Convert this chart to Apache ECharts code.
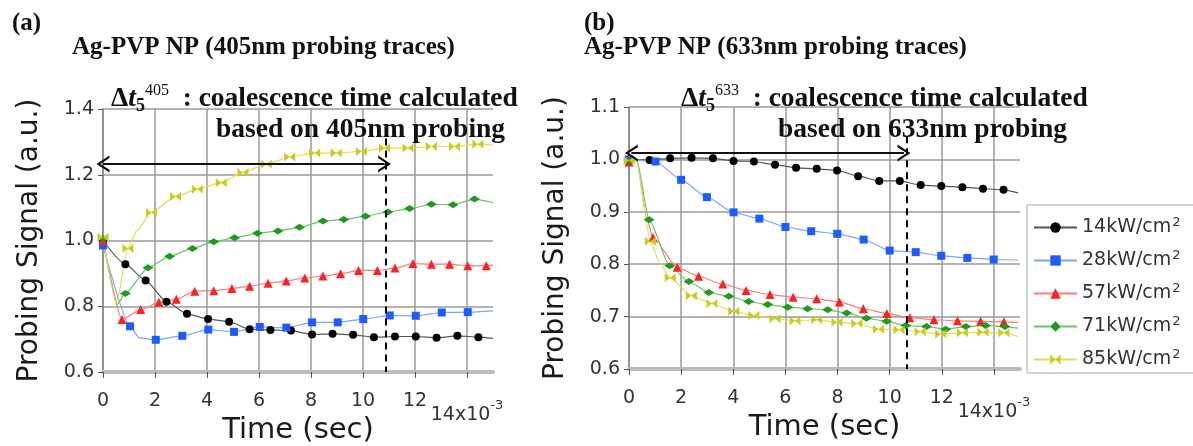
<!DOCTYPE html>
<html><head><meta charset="utf-8">
<script src="https://cdn.jsdelivr.net/npm/echarts@6/dist/echarts.min.js"></script>
<style>html,body{margin:0;padding:0;background:#fff}#c{width:1193px;height:446px}</style>
</head><body><div id="c"></div>
<script>
// Series names (legend)
const names = ['14kW/cm²', '28kW/cm²', '57kW/cm²', '71kW/cm²', '85kW/cm²'];
// x tick values (×10^-3 s)
const xTicks = [0, 2, 4, 6, 8, 10, 12, 14];
const yTicksA = [0.6, 0.8, 1.0, 1.2, 1.4];
const yTicksB = [0.6, 0.7, 0.8, 0.9, 1.0, 1.1];

// Panel (a): 405 nm probing traces  [time (ms), signal, marker shown]
const a14 = [[0,1.0,1],[0.86,0.928,1],[1.64,0.878,1],[2.44,0.814,1],[3.23,0.777,1],[4.04,0.761,1],[4.85,0.753,1],[5.64,0.730,1],[6.44,0.728,1],[7.23,0.726,1],[8.04,0.714,1],[8.83,0.716,1],[9.62,0.713,1],[10.42,0.706,1],[11.23,0.708,1],[12.03,0.708,1],[12.83,0.704,1],[13.63,0.710,1],[14.44,0.706,1],[15,0.702,0]];
const a28 = [[0,0.985,1],[1.04,0.739,1],[1.4,0.704,0],[2.03,0.698,1],[3.05,0.710,1],[4.05,0.729,1],[5.04,0.722,1],[6.03,0.737,1],[7.05,0.735,1],[8.04,0.751,1],[9.03,0.751,1],[10.01,0.761,1],[11.03,0.772,1],[12.03,0.771,1],[13.03,0.781,1],[14.03,0.782,1],[15,0.786,0]];
const a57 = [[0,1.0,1],[0.73,0.760,1],[1.45,0.790,1],[2.15,0.812,1],[2.82,0.821,1],[3.53,0.846,1],[4.26,0.847,1],[4.96,0.854,1],[5.64,0.861,1],[6.35,0.870,1],[7.05,0.877,1],[7.76,0.886,1],[8.46,0.892,1],[9.14,0.899,1],[9.83,0.909,1],[10.55,0.909,1],[11.23,0.916,1],[11.92,0.930,1],[12.63,0.928,1],[13.33,0.928,1],[14.03,0.923,1],[14.74,0.923,1],[15,0.925,0]];
const a71 = [[0,1.005,1],[0.55,0.806,0],[0.86,0.839,1],[1.73,0.917,1],[2.56,0.952,1],[3.44,0.976,1],[4.26,0.996,1],[5.06,1.008,1],[5.94,1.022,1],[6.73,1.029,1],[7.56,1.040,1],[8.46,1.059,1],[9.26,1.064,1],[10.1,1.074,1],[10.96,1.087,1],[11.79,1.097,1],[12.63,1.110,1],[13.46,1.109,1],[14.29,1.126,1],[15,1.115,0]];
const a85 = [[0,1.01,1],[0.52,0.81,0],[0.96,0.976,1],[1.3,1.03,0],[1.86,1.085,1],[2.79,1.134,1],[3.63,1.156,1],[4.55,1.176,1],[5.38,1.207,1],[6.28,1.232,1],[7.18,1.254,1],[8.14,1.266,1],[8.97,1.266,1],[9.94,1.271,1],[10.83,1.281,1],[11.73,1.281,1],[12.63,1.286,1],[13.52,1.286,1],[14.42,1.293,1],[15,1.290,0]];

// Panel (b): 633 nm probing traces
const b14 = [[0,0.999,1],[0.79,0.999,1],[1.58,1.002,1],[2.40,1.003,1],[3.22,1.002,1],[4.01,0.997,1],[4.79,0.996,1],[5.6,0.990,1],[6.41,0.984,1],[7.20,0.982,1],[7.98,0.979,1],[8.79,0.968,1],[9.60,0.959,1],[10.39,0.959,1],[11.19,0.951,1],[11.98,0.949,1],[12.79,0.947,1],[13.58,0.944,1],[14.37,0.942,1],[14.93,0.936,0]];
const b28 = [[0,1.0,1],[1.02,0.996,1],[2.0,0.961,1],[2.99,0.928,1],[4.01,0.899,1],[5.0,0.887,1],[6.0,0.871,1],[6.99,0.863,1],[7.99,0.858,1],[9.0,0.847,1],[10.0,0.826,1],[11.0,0.823,1],[11.98,0.816,1],[12.98,0.812,1],[13.99,0.809,1],[14.93,0.808,0]];
const b57 = [[0,0.995,1],[0.3,0.998,0],[0.66,0.891,0],[0.92,0.851,1],[1.85,0.794,1],[2.67,0.777,1],[3.60,0.762,1],[4.49,0.750,1],[5.41,0.742,1],[6.30,0.737,1],[7.20,0.734,1],[8.07,0.728,1],[8.99,0.715,1],[9.89,0.706,1],[10.77,0.698,1],[11.70,0.694,1],[12.6,0.692,1],[13.49,0.691,1],[14.38,0.690,1],[14.93,0.689,0]];
const b71 = [[0,0.997,1],[0.3,0.998,0],[0.77,0.885,1],[1.56,0.797,1],[2.30,0.767,1],[3.06,0.746,1],[3.83,0.739,1],[4.59,0.729,1],[5.32,0.723,1],[6.09,0.718,1],[6.85,0.715,1],[7.62,0.713,1],[8.35,0.707,1],[9.11,0.697,1],[9.88,0.691,1],[10.62,0.683,1],[11.41,0.681,1],[12.15,0.676,1],[12.92,0.681,1],[13.68,0.683,1],[14.42,0.681,1],[14.93,0.678,0]];
const b85 = [[0,0.998,1],[0.28,0.997,0],[0.82,0.844,1],[1.17,0.803,0],[1.58,0.774,1],[2.39,0.740,1],[3.18,0.725,1],[4.02,0.710,1],[4.79,0.702,1],[5.60,0.696,1],[6.37,0.692,1],[7.20,0.694,1],[7.98,0.689,1],[8.74,0.687,1],[9.57,0.676,1],[10.36,0.675,1],[11.17,0.671,1],[11.96,0.667,1],[12.79,0.669,1],[13.58,0.670,1],[14.38,0.669,1],[14.93,0.662,0]];

// Δt5 annotations: double arrow and dashed line endpoints
const arrowA = [[0, 1.233], [10.83, 1.233]];
const dashA = [[10.87, 1.31], [10.87, 0.6]];
const arrowB = [[0.09, 1.012], [10.55, 1.012]];
const dashB = [[10.64, 1.044], [10.64, 0.6]];

const markerColors = ['#000000', '#1f5cff', '#ff2020', '#1e9a1e', '#cccc1a'];
const lineColors = ['#555555', '#7fa3ff', '#ff7a7a', '#6cc26c', '#dede5a'];
const symbols = ['circle', 'rect', 'triangle', 'path://M0,5L5,0L10,5L5,10Z', 'path://M0,0L5,5L0,10ZM10,0L5,5L10,10Z'];
const symbolSizes = [8, 8, 9, [11, 7], [11, 9]];

const SANS = 'DejaVu Sans';
const SERIF = 'Liberation Serif';

function mkSeries(arr, i, gi) {
  return {
    name: names[i], type: 'line', xAxisIndex: gi, yAxisIndex: gi,
    symbol: symbols[i], symbolSize: symbolSizes[i], showSymbol: true, showAllSymbol: true,
    smooth: 0.2, smoothMonotone: 'x',
    itemStyle: { color: markerColors[i] },
    lineStyle: { color: lineColors[i], width: 1.2 },
    emphasis: { disabled: true },
    data: arr.map(p => ({ value: [p[0], p[1]], symbol: p[2] ? symbols[i] : 'none' })),
    z: 3
  };
}
const chevron = 'path://M0,10L5,0L10,10L8.5,10L5,3L1.5,10Z';
function mkAnno(gi, arrow, dash) {
  return {
    type: 'line', xAxisIndex: gi, yAxisIndex: gi, data: [], silent: true,
    markLine: {
      silent: true, animation: false, label: { show: false },
      data: [
        [{ coord: arrow[0], symbol: chevron, symbolSize: [17, 13] }, { coord: arrow[1], symbol: chevron, symbolSize: [17, 13] }],
        [{ coord: dash[0], symbol: 'none', lineStyle: { type: [7, 5], width: 2, color: '#000' } }, { coord: dash[1], symbol: 'none' }]
      ],
      lineStyle: { color: '#111', width: 2, type: 'solid' }
    },
    z: 5
  };
}

function xAxis(gi) {
  return {
    type: 'value', gridIndex: gi, min: 0, max: 15, interval: 2,
    axisLine: { show: true, onZero: false, lineStyle: { color: '#bbbbbb', width: 4 } },
    axisTick: { show: true, length: 6, lineStyle: { color: '#555' } },
    splitLine: { show: true, lineStyle: { color: ['#9a9a9a','#9a9a9a','#9a9a9a','#9a9a9a','#9a9a9a','#9a9a9a','#9a9a9a','#9a9a9a','rgba(0,0,0,0)'], width: 1.5 } },
    axisLabel: {
      color: '#333', fontFamily: SANS, fontSize: 19, margin: 20, showMaxLabel: false,
      formatter: v => v === 14 ? '{b|14x10}{s|-3}' : (v > 14 ? '' : String(v)),
      rich: { b: { fontFamily: SANS, fontSize: 19, color: '#333', padding: [14, 0, 0, 0] }, s: { fontFamily: SANS, fontSize: 13, color: '#333', padding: [0, 0, 6, 0] } }
    },
    name: 'Time (sec)', nameLocation: 'middle', nameGap: 44, nameMoveOverlap: false,
    nameTextStyle: { fontFamily: SANS, fontSize: 29, color: '#1a1a1a' }
  };
}
function yAxis(gi, min, max, interval) {
  return {
    type: 'value', gridIndex: gi, min: min, max: max, interval: interval, offset: 3,
    axisLine: { show: true, lineStyle: { color: '#888', width: 1.5 } },
    axisTick: { show: true, length: 5, lineStyle: { color: '#555' } },
    splitLine: { show: true, lineStyle: { color: '#9a9a9a', width: 1.5 } },
    axisLabel: { color: '#333', fontFamily: SANS, fontSize: 19, margin: 6, formatter: v => v.toFixed(1) },
    name: 'Probing Signal (a.u.)', nameLocation: 'middle', nameGap: 56, nameMoveOverlap: false,
    nameTextStyle: { fontFamily: SANS, fontSize: 28, color: '#1a1a1a' }
  };
}

const serifBold = { fontFamily: SERIF, fontWeight: 'bold', fontSize: 25, color: '#111' };
const annoBold = { fontFamily: SERIF, fontWeight: 'bold', fontSize: 27.5, color: '#111' };
function deltaRich(sup) {
  return {
    text: '{d|Δ}{t|t}{sub|5}{sup|' + sup + '}{m|  : coalescence time calculated}',
    textStyle: {
      rich: {
        d: Object.assign({}, annoBold, { lineHeight: 32 }),
        t: Object.assign({}, annoBold, { fontStyle: 'italic', lineHeight: 32 }),
        sub: Object.assign({}, annoBold, { fontSize: 18, verticalAlign: 'bottom', lineHeight: 18 }),
        sup: Object.assign({}, annoBold, { fontSize: 16, verticalAlign: 'top', lineHeight: 16, fontWeight: 'normal' }),
        m: Object.assign({}, annoBold, { lineHeight: 32 })
      }
    }
  };
}

const option = {
  backgroundColor: '#fff',
  animation: false,
  title: [
    { text: '(a)', left: 7, top: 6, textStyle: serifBold },
    { text: 'Ag-PVP NP (405nm probing traces)', left: 67, top: 30, textStyle: serifBold },
    Object.assign({ left: 106, top: 78 }, deltaRich('405')),
    { text: 'based on 405nm probing', left: 211, top: 111, textStyle: annoBold },
    { text: '(b)', left: 579, top: 6, textStyle: serifBold },
    { text: 'Ag-PVP NP (633nm probing traces)', left: 579, top: 30, textStyle: serifBold },
    Object.assign({ left: 676, top: 78 }, deltaRich('633')),
    { text: 'based on 633nm probing', left: 773, top: 111, textStyle: annoBold }
  ],
  grid: [
    { left: 103, top: 109, width: 390, height: 263, outerBoundsMode: 'none', containLabel: false },
    { left: 629, top: 107, width: 391, height: 262, outerBoundsMode: 'none', containLabel: false }
  ],
  xAxis: [xAxis(0), xAxis(1)],
  yAxis: [yAxis(0, yTicksA[0], yTicksA[yTicksA.length - 1], 0.2), yAxis(1, yTicksB[0], yTicksB[yTicksB.length - 1], 0.1)],
  legend: {
    data: names, orient: 'vertical', left: 1027, top: 205,
    itemWidth: 43, itemHeight: 13, itemGap: 12,
    borderColor: '#aaaaaa', borderWidth: 1, padding: [11, 60, 4, 6],
    selectedMode: false,
    formatter: n => '{n|' + n.replace('²', '') + '}{s|2}',
    textStyle: {
      rich: {
        n: { fontFamily: SANS, fontSize: 19, color: '#333' },
        s: { fontFamily: SANS, fontSize: 13, color: '#333', verticalAlign: 'top', padding: [0, 0, 10, 1] }
      }
    }
  },
  series: [
    mkSeries(a14, 0, 0), mkSeries(a28, 1, 0), mkSeries(a57, 2, 0), mkSeries(a71, 3, 0), mkSeries(a85, 4, 0),
    mkSeries(b14, 0, 1), mkSeries(b28, 1, 1), mkSeries(b57, 2, 1), mkSeries(b71, 3, 1), mkSeries(b85, 4, 1),
    mkAnno(0, arrowA, dashA), mkAnno(1, arrowB, dashB)
  ]
};
const chart = echarts.init(document.getElementById('c'), null, { renderer: 'canvas' });
chart.setOption(option);
</script>
</body></html>
